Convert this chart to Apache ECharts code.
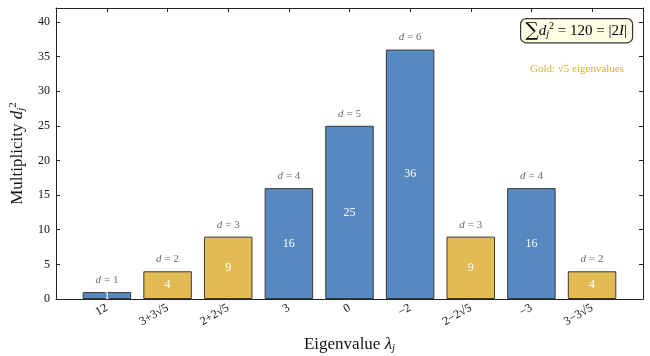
<!DOCTYPE html>
<html>
<head>
<meta charset="utf-8">
<script src="https://cdn.jsdelivr.net/npm/echarts@6/dist/echarts.min.js"></script>
<style>
  html, body { margin: 0; padding: 0; background: #fff; }
  #chart { width: 650px; height: 356px; }
</style>
</head>
<body>
<div id="chart"></div>
<script>
const eigenLabels = ['12', '3+3√5', '2+2√5', '3', '0', '−2', '2−2√5', '−3', '3−3√5'];
const dims = [1, 2, 3, 4, 5, 6, 3, 4, 2];
const multiplicity = [1, 4, 9, 16, 25, 36, 9, 16, 4];
const isGold = [false, true, true, false, false, false, true, false, true];
const yTicks = [0, 5, 10, 15, 20, 25, 30, 35, 40];
const xTicks = [0, 1, 2, 3, 4, 5, 6, 7, 8];

const BLUE = '#5689c0';
const GOLD = '#e3bb55';
const FONT = 'Liberation Serif';

const chart = echarts.init(document.getElementById('chart'));

const barData = multiplicity.map((v, i) => ({
  value: [i, v],
  itemStyle: { color: isGold[i] ? GOLD : BLUE }
}));

const dData = multiplicity.map((v, i) => ({ value: [i, v], d: dims[i] }));

const axisLineStyle = { color: '#222', width: 1 };

const option = {
  backgroundColor: '#fff',
  animation: false,
  textStyle: { fontFamily: FONT },
  grid: { left: 56, right: 7, top: 8, bottom: 57, outerBoundsMode: 'none', containLabel: false },
  xAxis: [{
    type: 'value',
    min: -0.84,
    max: 8.84,
    splitLine: { show: false },
    axisLine: { onZero: false, lineStyle: axisLineStyle },
    axisTick: { inside: true, length: 4, customValues: xTicks, lineStyle: axisLineStyle },
    axisLabel: {
      customValues: xTicks,
      rotate: 30,
      fontFamily: FONT,
      fontSize: 12,
      color: '#111',
      margin: 8,
      formatter: v => eigenLabels[Math.round(v)]
    },
    name: '{t|Eigenvalue }{i|λ}{s|j}',
    nameLocation: 'middle',
    nameGap: 36,
    nameTextStyle: {
      rich: {
        t: { fontFamily: FONT, fontSize: 17, color: '#111' },
        i: { fontFamily: FONT, fontSize: 17, fontStyle: 'italic', color: '#111' },
        s: { fontFamily: FONT, fontSize: 11, fontStyle: 'italic', color: '#111', padding: [8, 0, 0, 0] }
      }
    }
  }, {
    type: 'value',
    position: 'top',
    min: -0.84,
    max: 8.84,
    splitLine: { show: false },
    axisLine: { onZero: false, lineStyle: axisLineStyle },
    axisTick: { inside: true, length: 4, customValues: xTicks, lineStyle: axisLineStyle },
    axisLabel: { show: false }
  }],
  yAxis: [{
    type: 'value',
    min: 0,
    max: 42,
    splitLine: { show: false },
    axisLine: { show: true, onZero: false, lineStyle: axisLineStyle },
    axisTick: { show: true, inside: true, length: 4, customValues: yTicks, lineStyle: axisLineStyle },
    axisLabel: { customValues: yTicks, fontFamily: FONT, fontSize: 12, color: '#111', margin: 6 },
    name: '{t|Multiplicity }{i|d}{s|j}{p|2}',
    nameLocation: 'middle',
    nameRotate: 90,
    nameGap: 29,
    nameTextStyle: {
      rich: {
        t: { fontFamily: FONT, fontSize: 17, color: '#111' },
        i: { fontFamily: FONT, fontSize: 17, fontStyle: 'italic', color: '#111' },
        s: { fontFamily: FONT, fontSize: 11, fontStyle: 'italic', color: '#111', padding: [8, 0, 0, 0] },
        p: { fontFamily: FONT, fontSize: 11, color: '#111', padding: [0, 0, 8, 0] }
      }
    }
  }, {
    type: 'value',
    position: 'right',
    min: 0,
    max: 42,
    splitLine: { show: false },
    axisLine: { show: true, onZero: false, lineStyle: axisLineStyle },
    axisTick: { show: true, inside: true, length: 4, customValues: yTicks, lineStyle: axisLineStyle },
    axisLabel: { show: false }
  }],
  series: [{
    type: 'bar',
    xAxisIndex: 0,
    yAxisIndex: 0,
    barWidth: 48.5,
    data: barData,
    itemStyle: { borderColor: '#3a3a3a', borderWidth: 1 },
    label: {
      show: true,
      position: 'inside',
      color: '#fff',
      fontFamily: FONT,
      fontSize: 12,
      formatter: p => p.value[1]
    }
  }, {
    type: 'scatter',
    xAxisIndex: 0,
    yAxisIndex: 0,
    symbolSize: 0,
    data: dData,
    silent: true,
    label: {
      show: true,
      position: 'top',
      distance: 6,
      formatter: p => '{i|d} {e|= ' + p.data.d + '}',
      rich: {
        i: { fontFamily: FONT, fontSize: 11, fontStyle: 'italic', color: '#444' },
        e: { fontFamily: FONT, fontSize: 11, color: '#444' }
      }
    }
  }],
  graphic: [{
    type: 'text',
    left: 520,
    top: 18,
    style: {
      text: '{S|∑}{i|d}{s|j}{p|2}{t| = 120 = |2}{i|I}{t||}',
      backgroundColor: '#fffde3',
      borderColor: '#333',
      borderWidth: 1.2,
      borderRadius: 5,
      padding: [2, 5, 2, 4],
      rich: {
        S: { fontFamily: 'DejaVu Serif', fontSize: 19, color: '#111' },
        i: { fontFamily: FONT, fontSize: 15, fontStyle: 'italic', color: '#111' },
        s: { fontFamily: FONT, fontSize: 10, fontStyle: 'italic', color: '#111', padding: [8, 0, 0, 0] },
        p: { fontFamily: FONT, fontSize: 10, color: '#111', padding: [0, 0, 8, 0] },
        t: { fontFamily: FONT, fontSize: 15, color: '#111' }
      }
    }
  }, {
    type: 'text',
    left: 530,
    top: 64,
    style: {
      text: 'Gold: √5 eigenvalues',
      fontFamily: FONT,
      fontSize: 11,
      fill: '#e0aa38'
    }
  }]
};

chart.setOption(option);
</script>
</body>
</html>
